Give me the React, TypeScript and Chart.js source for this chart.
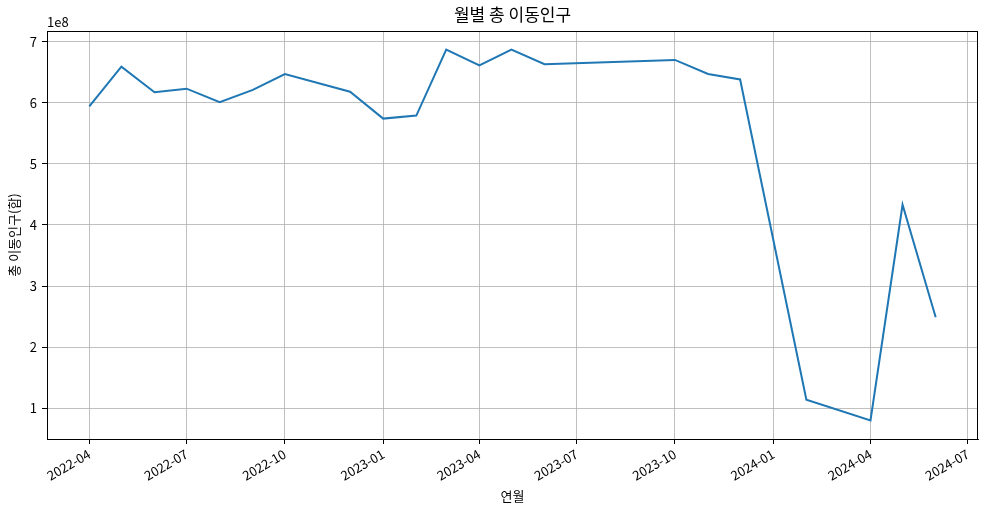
import React, { useEffect, useRef } from "react";
import { Chart, registerables } from "chart.js";

Chart.register(...registerables);

const months = [
  "2022-04", "2022-05", "2022-06", "2022-07", "2022-08", "2022-09", "2022-10",
  "2022-12", "2023-01", "2023-02", "2023-03", "2023-04", "2023-05", "2023-06",
  "2023-10", "2023-11", "2023-12", "2024-02", "2024-04", "2024-05", "2024-06",
];
const values = [
  594000000, 659000000, 617000000, 623000000, 601000000, 621000000, 647000000,
  618000000, 574000000, 579000000, 687000000, 661000000, 687000000, 663000000,
  670000000, 647000000, 638000000, 114000000, 80000000, 433000000, 249000000,
];
const xTickLabels = [
  "2022-04", "2022-07", "2022-10", "2023-01", "2023-04",
  "2023-07", "2023-10", "2024-01", "2024-04", "2024-07",
];
const yTicks = [1e8, 2e8, 3e8, 4e8, 5e8, 6e8, 7e8];

const chartTitle = "월별 총 이동인구";
const xTitle = "연월";
const yTitle = "총 이동인구(합)";

const toTs = (ym: string) => {
  const [y, m] = ym.split("-").map(Number);
  return Date.UTC(y, m - 1, 1);
};

const FONT = "'Noto Sans CJK KR', 'Noto Sans', sans-serif";

export default function App() {
  const ref = useRef<HTMLCanvasElement | null>(null);

  useEffect(() => {
    if (!ref.current) return;
    const xs = months.map(toTs);
    const xMinD = Math.min(...xs), xMaxD = Math.max(...xs);
    const yMinD = Math.min(...values), yMaxD = Math.max(...values);
    const xm = (xMaxD - xMinD) * 0.05;
    const ym = (yMaxD - yMinD) * 0.05;

    const framePlugin = {
      id: "frame",
      afterDraw(chart: any) {
        const { ctx, chartArea: a } = chart;
        ctx.save();
        ctx.strokeStyle = "#000";
        ctx.lineWidth = 1;
        ctx.strokeRect(a.left + 0.5, a.top + 0.5, a.right - a.left - 1, a.bottom - a.top);
        ctx.fillStyle = "#000";
        ctx.font = `13px ${FONT}`;
        ctx.textAlign = "left";
        ctx.textBaseline = "bottom";
        ctx.fillText("1e8", a.left, a.top - 2);
        ctx.font = `17px ${FONT}`;
        ctx.textAlign = "center";
        ctx.textBaseline = "middle";
        ctx.fillText(chartTitle, (a.left + a.right) / 2, 15);
        ctx.restore();
      },
    };

    const chart = new Chart(ref.current, {
      type: "line",
      data: {
        datasets: [
          {
            data: xs.map((x, i) => ({ x, y: values[i] })),
            borderColor: "#1f77b4",
            backgroundColor: "#1f77b4",
            borderWidth: 2,
            pointRadius: 0,
            tension: 0,
            fill: false,
          },
        ],
      },
      options: {
        responsive: false,
        animation: false,
        layout: { padding: { left: 0, right: 8, top: 31, bottom: 0 } },
        plugins: {
          legend: { display: false },
          tooltip: { enabled: false },
          title: { display: false },
        },
        scales: {
          x: {
            type: "linear",
            min: xMinD - xm,
            max: xMaxD + xm,
            afterBuildTicks: (axis: any) => {
              axis.ticks = xTickLabels.map((l) => ({ value: toTs(l), label: l }));
            },
            afterFit: (axis: any) => {
              axis.height = 75;
            },
            ticks: {
              color: "#000",
              font: { family: FONT, size: 13 },
              minRotation: 30,
              maxRotation: 30,
              autoSkip: false,
              padding: 2,
              callback: (v: any) => {
                const d = new Date(Number(v));
                return `${d.getUTCFullYear()}-${String(d.getUTCMonth() + 1).padStart(2, "0")}`;
              },
            },
            grid: {
              color: "#b0b0b0",
              lineWidth: 0.8,
              tickColor: "#000",
              tickLength: 5,
              tickWidth: 1,
            },
            border: { color: "#000", width: 1 },
            title: {
              display: true,
              text: xTitle,
              color: "#000",
              font: { family: FONT, size: 13 },
              padding: { top: 4, bottom: 10 },
            },
          },
          y: {
            type: "linear",
            min: yMinD - ym,
            max: yMaxD + ym,
            afterBuildTicks: (axis: any) => {
              axis.ticks = yTicks.map((v) => ({ value: v }));
            },
            afterFit: (axis: any) => {
              axis.width = 47;
            },
            ticks: {
              color: "#000",
              font: { family: FONT, size: 13 },
              padding: 5,
              callback: (v: any) => String(Number(v) / 1e8),
            },
            grid: {
              color: "#b0b0b0",
              lineWidth: 0.8,
              tickColor: "#000",
              tickLength: 5,
              tickWidth: 1,
            },
            border: { color: "#000", width: 1 },
            title: {
              display: true,
              text: yTitle,
              color: "#000",
              font: { family: FONT, size: 13 },
              padding: { top: 6, bottom: 0 },
            },
          },
        },
      },
      plugins: [framePlugin],
    });
    return () => chart.destroy();
  }, []);

  return (
    <div style={{ position: "absolute", left: 0, top: 0, width: 986, height: 514, background: "#fff" }}>
      <canvas ref={ref} width={986} height={514} style={{ display: "block" }} />
    </div>
  );
}
